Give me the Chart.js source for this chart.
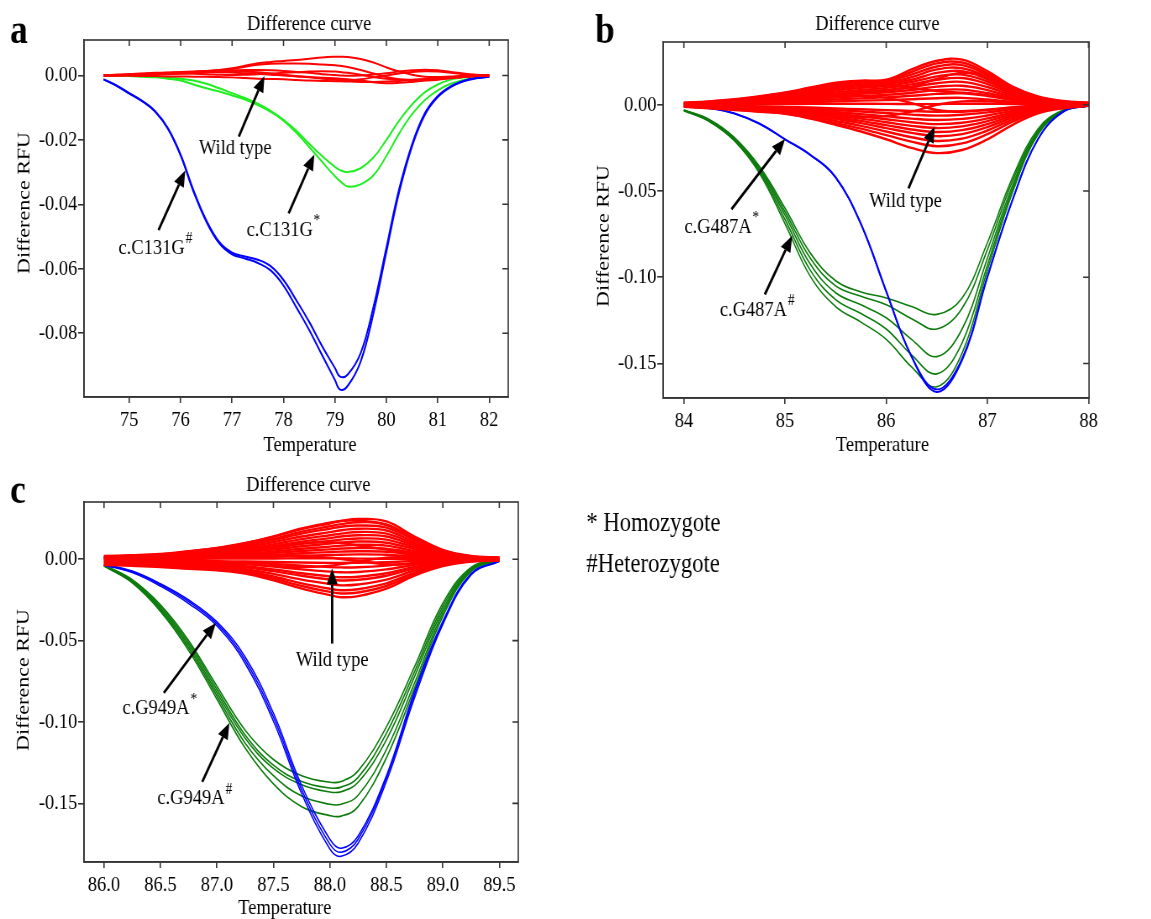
<!DOCTYPE html>
<html>
<head>
<meta charset="utf-8">
<title>Difference curves</title>
<script src="https://cdn.jsdelivr.net/npm/chart.js@4.4.1/dist/chart.umd.min.js"></script>
<style>
  body { margin: 0; background: #fff; }
  #wrap { position: relative; width: 1151px; height: 919px; overflow: hidden; }
  /* the figure is set in slightly condensed type: squeeze each panel horizontally */
  #wrap canvas { position: absolute; transform: scaleX(0.84); transform-origin: 0 0; }
</style>
</head>
<body>
<div id="wrap">
  <canvas id="chart-a" width="679" height="460" style="left:0;top:0"></canvas>
  <canvas id="chart-b" width="680" height="460" style="left:580px;top:0"></canvas>
  <canvas id="chart-c" width="952" height="459" style="left:0;top:460px"></canvas>
</div>
<script>
// ---- panel a : c.C131G ----
const tempA = [74.5, 74.75, 75, 75.25, 75.5, 75.75, 76, 76.25, 76.5, 76.75, 77, 77.25, 77.5, 77.75, 78, 78.25,
               78.5, 78.75, 79, 79.1, 79.25, 79.5, 79.75, 80, 80.25, 80.5, 80.75, 81, 81.25, 81.5, 81.75, 82];
const xTicksA = [75, 76, 77, 78, 79, 80, 81, 82];
const yTicksA = [0, -0.02, -0.04, -0.06, -0.08];

const hetA1 = [-0.0012, -0.0031, -0.0055, -0.0079, -0.0110, -0.0163, -0.0246, -0.0357, -0.0450, -0.0517, -0.0550, -0.0562, -0.0572, -0.0592, -0.0635, -0.0698,
               -0.0765, -0.0840, -0.0908, -0.0935, -0.0928, -0.0862, -0.0718, -0.0535, -0.0352, -0.0214, -0.0117, -0.0064, -0.0034, -0.0017, -0.0008, -0.0004];
const hetA2 = [-0.0012, -0.0032, -0.0056, -0.0080, -0.0112, -0.0165, -0.0249, -0.0361, -0.0454, -0.0521, -0.0555, -0.0568, -0.0582, -0.0605, -0.0652, -0.0720,
               -0.0790, -0.0868, -0.0945, -0.0975, -0.0963, -0.0888, -0.0738, -0.0548, -0.0362, -0.0220, -0.0122, -0.0067, -0.0036, -0.0018, -0.0009, -0.0004];
const homA1 = [0, -0.0001, -0.0001, -0.0002, -0.0004, -0.0006, -0.0010, -0.0016, -0.0026, -0.0040, -0.0055, -0.0070, -0.0088, -0.0110, -0.0138, -0.0172,
               -0.0212, -0.0250, -0.0284, -0.0294, -0.0300, -0.0288, -0.0255, -0.0200, -0.0140, -0.0090, -0.0052, -0.0028, -0.0013, -0.0006, -0.0002, -0.0001];
const homA2 = [0, -0.0001, -0.0002, -0.0004, -0.0006, -0.0010, -0.0016, -0.0028, -0.0040, -0.0050, -0.0062, -0.0075, -0.0092, -0.0113, -0.0140, -0.0178,
               -0.0222, -0.0268, -0.0313, -0.0328, -0.0345, -0.0338, -0.0310, -0.0250, -0.0180, -0.0120, -0.0076, -0.0046, -0.0026, -0.0014, -0.0006, -0.0002];
const wildA = [
  [0, 0.0002, 0.0004, 0.0006, 0.0008, 0.0009, 0.0011, 0.0012, 0.0014, 0.0017, 0.0022, 0.0030, 0.0038, 0.0042, 0.0045, 0.0048,
   0.0052, 0.0056, 0.0058, 0.0058, 0.0057, 0.0051, 0.0040, 0.0025, 0.0012, 0.0002, -0.0004, -0.0005, -0.0003, -0.0001, 0, 0],
  [0, 0.0002, 0.0003, 0.0005, 0.0007, 0.0008, 0.0010, 0.0011, 0.0013, 0.0016, 0.0020, 0.0027, 0.0033, 0.0036, 0.0037, 0.0037,
   0.0036, 0.0034, 0.0032, 0.0030, 0.0026, 0.0017, 0.0006, -0.0005, -0.0012, -0.0015, -0.0015, -0.0013, -0.0009, -0.0005, -0.0002, 0],
  [0, 0.0001, 0.0002, 0.0004, 0.0005, 0.0007, 0.0009, 0.0011, 0.0013, 0.0015, 0.0016, 0.0017, 0.0017, 0.0016, 0.0014, 0.0011,
   0.0008, 0.0004, 0.0001, 0.0000, -0.0001, 0.0000, 0.0003, 0.0007, 0.0012, 0.0016, 0.0018, 0.0016, 0.0011, 0.0006, 0.0002, 0],
  [0, 0.0001, 0.0002, 0.0003, 0.0004, 0.0006, 0.0008, 0.0009, 0.0010, 0.0010, 0.0009, 0.0007, 0.0005, 0.0002, 0.0000, -0.0003,
   -0.0006, -0.0010, -0.0013, -0.0014, -0.0015, -0.0012, -0.0006, 0.0000, 0.0006, 0.0011, 0.0013, 0.0012, 0.0008, 0.0004, 0.0001, 0],
  [0, 0.0000, 0.0001, 0.0002, 0.0003, 0.0004, 0.0005, 0.0005, 0.0004, 0.0002, 0.0001, 0.0002, 0.0004, 0.0006, 0.0008, 0.0010,
   0.0012, 0.0013, 0.0012, 0.0011, 0.0008, 0.0002, -0.0005, -0.0010, -0.0013, -0.0013, -0.0012, -0.0010, -0.0007, -0.0004, -0.0002, 0],
  [0, -0.0001, -0.0001, -0.0002, -0.0002, -0.0003, -0.0003, -0.0004, -0.0004, -0.0005, -0.0006, -0.0008, -0.0010, -0.0011, -0.0012, -0.0014,
   -0.0016, -0.0017, -0.0018, -0.0018, -0.0019, -0.0020, -0.0020, -0.0019, -0.0017, -0.0014, -0.0011, -0.0008, -0.0005, -0.0003, -0.0001, 0],
  [0, 0.0001, 0.0002, 0.0003, 0.0004, 0.0005, 0.0006, 0.0008, 0.0010, 0.0012, 0.0013, 0.0012, 0.0010, 0.0006, 0.0002, -0.0002,
   -0.0005, -0.0007, -0.0009, -0.0010, -0.0012, -0.0016, -0.0021, -0.0024, -0.0023, -0.0020, -0.0016, -0.0012, -0.0008, -0.0005, -0.0002, 0]
];

// ---- panel b : c.G487A ----
const tempB = [84, 84.25, 84.5, 84.75, 85, 85.25, 85.5, 85.75, 86, 86.25, 86.5, 86.75, 87, 87.25, 87.5, 87.75, 88];
const xTicksB = [84, 85, 86, 87, 88];
const yTicksB = [0, -0.05, -0.10, -0.15];

const homB1 = [-0.0010, -0.0020, -0.0050, -0.0110, -0.0200, -0.0290, -0.0420, -0.0690, -0.1080, -0.1460, -0.1665, -0.1480, -0.1000, -0.0550, -0.0200, -0.0040, -0.0005];
const homB2 = [-0.0010, -0.0020, -0.0050, -0.0111, -0.0201, -0.0292, -0.0423, -0.0694, -0.1085, -0.1458, -0.1650, -0.1470, -0.0995, -0.0548, -0.0199, -0.0040, -0.0005];
const hetB = [
  [-0.0030, -0.0085, -0.0190, -0.0360, -0.0600, -0.0860, -0.1020, -0.1085, -0.1120, -0.1170, -0.1215, -0.1120, -0.0800, -0.0420, -0.0140, -0.0030, -0.0005],
  [-0.0031, -0.0088, -0.0195, -0.0370, -0.0620, -0.0890, -0.1050, -0.1110, -0.1160, -0.1240, -0.1300, -0.1180, -0.0840, -0.0440, -0.0150, -0.0032, -0.0005],
  [-0.0032, -0.0091, -0.0200, -0.0380, -0.0640, -0.0925, -0.1090, -0.1160, -0.1235, -0.1360, -0.1460, -0.1300, -0.0890, -0.0465, -0.0158, -0.0034, -0.0006],
  [-0.0033, -0.0094, -0.0205, -0.0390, -0.0665, -0.0960, -0.1130, -0.1210, -0.1300, -0.1450, -0.1560, -0.1380, -0.0930, -0.0485, -0.0165, -0.0036, -0.0006],
  [-0.0034, -0.0097, -0.0210, -0.0400, -0.0690, -0.0995, -0.1170, -0.1260, -0.1360, -0.1520, -0.1635, -0.1440, -0.0960, -0.0505, -0.0172, -0.0038, -0.0007]
];
const wildB = [
  [0.0012, 0.0020, 0.0032, 0.0050, 0.0072, 0.0100, 0.0128, 0.0140, 0.0145, 0.0205, 0.0255, 0.0262, 0.0195, 0.0105, 0.0048, 0.0022, 0.0012],
  [0.0010, 0.0018, 0.0030, 0.0047, 0.0068, 0.0094, 0.0120, 0.0135, 0.0140, 0.0190, 0.0240, 0.0245, 0.0182, 0.0098, 0.0044, 0.0020, 0.0011],
  [0.0010, 0.0017, 0.0028, 0.0044, 0.0063, 0.0087, 0.0110, 0.0128, 0.0138, 0.0175, 0.0222, 0.0230, 0.0172, 0.0092, 0.0041, 0.0018, 0.0010],
  [0.0009, 0.0015, 0.0026, 0.0040, 0.0058, 0.0080, 0.0102, 0.0118, 0.0128, 0.0160, 0.0205, 0.0212, 0.0160, 0.0086, 0.0038, 0.0017, 0.0009],
  [0.0008, 0.0014, 0.0024, 0.0037, 0.0053, 0.0072, 0.0092, 0.0108, 0.0120, 0.0145, 0.0185, 0.0195, 0.0148, 0.0080, 0.0035, 0.0016, 0.0008],
  [0.0008, 0.0013, 0.0022, 0.0033, 0.0047, 0.0064, 0.0082, 0.0098, 0.0110, 0.0132, 0.0165, 0.0175, 0.0135, 0.0072, 0.0032, 0.0014, 0.0008],
  [0.0007, 0.0012, 0.0019, 0.0029, 0.0041, 0.0056, 0.0072, 0.0086, 0.0098, 0.0118, 0.0145, 0.0155, 0.0120, 0.0064, 0.0028, 0.0012, 0.0007],
  [0.0006, 0.0010, 0.0016, 0.0025, 0.0035, 0.0048, 0.0062, 0.0075, 0.0086, 0.0102, 0.0125, 0.0133, 0.0103, 0.0055, 0.0024, 0.0011, 0.0006],
  [0.0005, 0.0008, 0.0013, 0.0020, 0.0029, 0.0040, 0.0052, 0.0063, 0.0072, 0.0086, 0.0105, 0.0110, 0.0085, 0.0046, 0.0020, 0.0009, 0.0005],
  [0.0004, 0.0007, 0.0011, 0.0016, 0.0023, 0.0032, 0.0042, 0.0050, 0.0058, 0.0070, 0.0085, 0.0088, 0.0068, 0.0037, 0.0016, 0.0007, 0.0004],
  [0.0003, 0.0005, 0.0008, 0.0012, 0.0017, 0.0024, 0.0031, 0.0037, 0.0043, 0.0052, 0.0063, 0.0066, 0.0051, 0.0028, 0.0012, 0.0005, 0.0003],
  [0.0002, 0.0003, 0.0005, 0.0008, 0.0011, 0.0015, 0.0020, 0.0024, 0.0027, 0.0032, 0.0038, 0.0040, 0.0031, 0.0017, 0.0008, 0.0003, 0.0002],
  [0.0000, 0.0001, 0.0002, 0.0003, 0.0004, 0.0005, 0.0006, 0.0006, 0.0005, 0.0004, 0.0004, 0.0006, 0.0006, 0.0004, 0.0002, 0.0001, 0.0000],
  [0.0008, 0.0014, 0.0024, 0.0038, 0.0055, 0.0075, 0.0095, 0.0110, 0.0112, 0.0098, 0.0080, 0.0070, 0.0055, 0.0032, 0.0015, 0.0007, 0.0004],
  [0.0004, 0.0008, 0.0013, 0.0020, 0.0028, 0.0038, 0.0046, 0.0050, 0.0040, 0.0010, -0.0030, -0.0040, -0.0030, -0.0015, -0.0006, -0.0002, 0.0000],
  [-0.0006, -0.0010, -0.0016, -0.0024, -0.0034, -0.0047, -0.0060, -0.0070, -0.0065, -0.0040, 0.0000, 0.0020, 0.0020, 0.0010, 0.0004, 0.0001, 0.0000],
  [0.0006, 0.0010, 0.0017, 0.0026, 0.0037, 0.0050, 0.0062, 0.0072, 0.0080, 0.0105, 0.0150, 0.0185, 0.0160, 0.0090, 0.0038, 0.0016, 0.0008],
  [-0.0002, -0.0004, -0.0006, -0.0009, -0.0012, -0.0016, -0.0021, -0.0026, -0.0031, -0.0036, -0.0040, -0.0037, -0.0028, -0.0016, -0.0007, -0.0003, -0.0001],
  [-0.0003, -0.0005, -0.0008, -0.0012, -0.0017, -0.0023, -0.0031, -0.0039, -0.0048, -0.0057, -0.0063, -0.0058, -0.0044, -0.0025, -0.0011, -0.0004, -0.0002],
  [-0.0004, -0.0007, -0.0011, -0.0016, -0.0022, -0.0031, -0.0042, -0.0054, -0.0067, -0.0080, -0.0088, -0.0082, -0.0062, -0.0035, -0.0016, -0.0006, -0.0002],
  [-0.0005, -0.0008, -0.0013, -0.0019, -0.0027, -0.0038, -0.0052, -0.0067, -0.0084, -0.0101, -0.0112, -0.0104, -0.0079, -0.0045, -0.0020, -0.0008, -0.0003],
  [-0.0006, -0.0010, -0.0016, -0.0023, -0.0032, -0.0045, -0.0062, -0.0080, -0.0101, -0.0122, -0.0135, -0.0125, -0.0095, -0.0055, -0.0024, -0.0010, -0.0003],
  [-0.0007, -0.0012, -0.0019, -0.0027, -0.0037, -0.0052, -0.0072, -0.0093, -0.0118, -0.0143, -0.0158, -0.0147, -0.0112, -0.0064, -0.0028, -0.0011, -0.0004],
  [-0.0008, -0.0013, -0.0021, -0.0031, -0.0042, -0.0060, -0.0082, -0.0106, -0.0135, -0.0163, -0.0182, -0.0170, -0.0129, -0.0074, -0.0032, -0.0013, -0.0004],
  [-0.0009, -0.0015, -0.0024, -0.0035, -0.0047, -0.0068, -0.0094, -0.0122, -0.0155, -0.0188, -0.0210, -0.0196, -0.0149, -0.0086, -0.0037, -0.0015, -0.0005],
  [-0.0010, -0.0017, -0.0027, -0.0039, -0.0053, -0.0077, -0.0106, -0.0138, -0.0176, -0.0214, -0.0240, -0.0224, -0.0170, -0.0098, -0.0042, -0.0017, -0.0005],
  [-0.0012, -0.0020, -0.0030, -0.0040, -0.0050, -0.0080, -0.0116, -0.0155, -0.0200, -0.0250, -0.0280, -0.0262, -0.0200, -0.0116, -0.0050, -0.0020, -0.0006]
];

// ---- panel c : c.G949A ----
const tempC = [86, 86.25, 86.5, 86.75, 87, 87.25, 87.5, 87.75, 88, 88.1, 88.25, 88.5, 88.75, 89, 89.25, 89.5];
const xTicksC = [86, 86.5, 87, 87.5, 88, 88.5, 89, 89.5];
const yTicksC = [0, -0.05, -0.10, -0.15];

const homC = [
  [-0.0030, -0.0072, -0.0150, -0.0250, -0.0385, -0.0600, -0.0945, -0.1390, -0.1720, -0.1775, -0.1700, -0.1330, -0.0810, -0.0380, -0.0088, -0.0011],
  [-0.0033, -0.0077, -0.0157, -0.0260, -0.0397, -0.0620, -0.0970, -0.1415, -0.1750, -0.1800, -0.1720, -0.1345, -0.0830, -0.0390, -0.0092, -0.0012],
  [-0.0036, -0.0082, -0.0165, -0.0272, -0.0410, -0.0640, -0.0995, -0.1440, -0.1780, -0.1825, -0.1745, -0.1365, -0.0850, -0.0400, -0.0096, -0.0013]
];
const hetC = [
  [-0.0035, -0.0125, -0.0280, -0.0500, -0.0780, -0.1050, -0.1230, -0.1330, -0.1370, -0.1365, -0.1300, -0.1030, -0.0660, -0.0270, -0.0050, -0.0006],
  [-0.0036, -0.0130, -0.0290, -0.0515, -0.0800, -0.1080, -0.1265, -0.1365, -0.1405, -0.1400, -0.1340, -0.1070, -0.0690, -0.0290, -0.0056, -0.0007],
  [-0.0038, -0.0135, -0.0300, -0.0530, -0.0820, -0.1100, -0.1285, -0.1385, -0.1430, -0.1428, -0.1370, -0.1110, -0.0720, -0.0310, -0.0062, -0.0008],
  [-0.0040, -0.0140, -0.0310, -0.0545, -0.0840, -0.1130, -0.1330, -0.1455, -0.1505, -0.1505, -0.1450, -0.1170, -0.0760, -0.0330, -0.0068, -0.0009],
  [-0.0042, -0.0145, -0.0320, -0.0560, -0.0860, -0.1160, -0.1380, -0.1520, -0.1575, -0.1578, -0.1520, -0.1220, -0.0790, -0.0350, -0.0074, -0.0010]
];
const wildC = [
  [0.0020, 0.0025, 0.0033, 0.0050, 0.0070, 0.0100, 0.0138, 0.0185, 0.0220, 0.0235, 0.0248, 0.0233, 0.0140, 0.0058, 0.0020, 0.0010],
  [0.0018, 0.0022, 0.0030, 0.0048, 0.0068, 0.0098, 0.0140, 0.0190, 0.0225, 0.0236, 0.0238, 0.0210, 0.0125, 0.0052, 0.0018, 0.0009],
  [0.0016, 0.0020, 0.0028, 0.0044, 0.0062, 0.0090, 0.0125, 0.0170, 0.0203, 0.0216, 0.0228, 0.0215, 0.0130, 0.0053, 0.0018, 0.0009],
  [0.0015, 0.0019, 0.0026, 0.0040, 0.0058, 0.0085, 0.0118, 0.0158, 0.0188, 0.0200, 0.0208, 0.0195, 0.0118, 0.0048, 0.0017, 0.0008],
  [0.0013, 0.0017, 0.0024, 0.0037, 0.0053, 0.0076, 0.0105, 0.0140, 0.0167, 0.0178, 0.0188, 0.0177, 0.0106, 0.0044, 0.0015, 0.0008],
  [0.0012, 0.0015, 0.0021, 0.0033, 0.0046, 0.0066, 0.0092, 0.0124, 0.0148, 0.0158, 0.0168, 0.0158, 0.0095, 0.0039, 0.0014, 0.0007],
  [0.0011, 0.0014, 0.0019, 0.0029, 0.0041, 0.0058, 0.0080, 0.0108, 0.0130, 0.0140, 0.0148, 0.0140, 0.0084, 0.0035, 0.0012, 0.0006],
  [0.0010, 0.0012, 0.0016, 0.0025, 0.0035, 0.0050, 0.0070, 0.0095, 0.0113, 0.0121, 0.0128, 0.0121, 0.0073, 0.0030, 0.0010, 0.0005],
  [0.0008, 0.0010, 0.0014, 0.0021, 0.0030, 0.0043, 0.0060, 0.0080, 0.0096, 0.0103, 0.0109, 0.0102, 0.0062, 0.0025, 0.0009, 0.0004],
  [0.0007, 0.0008, 0.0011, 0.0017, 0.0024, 0.0035, 0.0048, 0.0065, 0.0078, 0.0084, 0.0089, 0.0084, 0.0050, 0.0021, 0.0007, 0.0004],
  [0.0005, 0.0006, 0.0009, 0.0013, 0.0019, 0.0027, 0.0038, 0.0051, 0.0061, 0.0066, 0.0069, 0.0065, 0.0039, 0.0016, 0.0006, 0.0003],
  [0.0004, 0.0005, 0.0006, 0.0010, 0.0014, 0.0020, 0.0027, 0.0037, 0.0044, 0.0047, 0.0049, 0.0046, 0.0028, 0.0012, 0.0004, 0.0002],
  [0.0002, 0.0003, 0.0004, 0.0006, 0.0008, 0.0012, 0.0016, 0.0022, 0.0026, 0.0028, 0.0030, 0.0028, 0.0017, 0.0007, 0.0002, 0.0001],
  [0.0000, 0.0000, 0.0002, 0.0003, 0.0004, 0.0004, 0.0005, 0.0006, 0.0006, 0.0005, 0.0004, 0.0003, 0.0002, 0.0001, 0.0000, 0.0000],
  [0.0010, 0.0012, 0.0016, 0.0024, 0.0034, 0.0050, 0.0072, 0.0098, 0.0105, 0.0100, 0.0085, 0.0060, 0.0030, 0.0010, 0.0003, 0.0001],
  [-0.0010, -0.0012, -0.0015, -0.0020, -0.0025, -0.0030, -0.0040, -0.0048, -0.0040, -0.0030, -0.0015, 0.0010, 0.0015, 0.0008, 0.0002, 0.0000],
  [0.0005, 0.0006, 0.0008, 0.0011, 0.0015, 0.0020, 0.0025, 0.0022, 0.0010, 0.0002, -0.0010, -0.0030, -0.0030, -0.0015, -0.0005, -0.0002],
  [-0.0005, -0.0006, -0.0008, -0.0010, -0.0012, -0.0014, -0.0017, -0.0020, -0.0022, -0.0022, -0.0021, -0.0018, -0.0010, -0.0004, -0.0002, -0.0001],
  [-0.0008, -0.0009, -0.0010, -0.0013, -0.0015, -0.0019, -0.0028, -0.0039, -0.0048, -0.0050, -0.0049, -0.0039, -0.0022, -0.0009, -0.0003, -0.0002],
  [-0.0012, -0.0014, -0.0016, -0.0020, -0.0023, -0.0030, -0.0045, -0.0062, -0.0076, -0.0080, -0.0078, -0.0062, -0.0034, -0.0014, -0.0005, -0.0002],
  [-0.0017, -0.0019, -0.0022, -0.0028, -0.0032, -0.0042, -0.0062, -0.0086, -0.0105, -0.0110, -0.0107, -0.0086, -0.0047, -0.0020, -0.0007, -0.0003],
  [-0.0020, -0.0022, -0.0026, -0.0033, -0.0038, -0.0049, -0.0073, -0.0101, -0.0124, -0.0130, -0.0126, -0.0101, -0.0056, -0.0023, -0.0008, -0.0004],
  [-0.0024, -0.0027, -0.0032, -0.0040, -0.0046, -0.0061, -0.0090, -0.0125, -0.0152, -0.0160, -0.0155, -0.0125, -0.0069, -0.0029, -0.0010, -0.0005],
  [-0.0029, -0.0032, -0.0038, -0.0048, -0.0055, -0.0072, -0.0106, -0.0148, -0.0181, -0.0190, -0.0184, -0.0148, -0.0082, -0.0034, -0.0011, -0.0006],
  [-0.0032, -0.0036, -0.0042, -0.0053, -0.0061, -0.0080, -0.0118, -0.0164, -0.0200, -0.0210, -0.0204, -0.0164, -0.0090, -0.0038, -0.0013, -0.0006],
  [-0.0035, -0.0040, -0.0047, -0.0058, -0.0068, -0.0088, -0.0130, -0.0180, -0.0220, -0.0233, -0.0226, -0.0180, -0.0100, -0.0042, -0.0014, -0.0007]
];

// ---- styling ----
const SERIF = "'Liberation Serif', 'Times New Roman', serif";
const RED = '#ff0000', BLUE = '#0000ff', LIME = '#1fee1f', GREEN = '#0b7b0b', AXIS = '#333';
const FS = 22;          // tick / label size
Chart.defaults.font.family = SERIF;
Chart.defaults.color = '#000';

function curve(xs, ys, color, width, order) {
  return {
    data: xs.map((x, i) => ({ x: x, y: ys[i] })),
    borderColor: color, borderWidth: width, order: order,
    pointRadius: 0, fill: false, tension: 0.4
  };
}

// box round the plot with inward ticks on top and right
const framePlugin = {
  id: 'frame',
  afterDatasetsDraw(chart) {
    const { ctx, chartArea: a, scales: { x, y } } = chart;
    ctx.save();
    ctx.strokeStyle = AXIS;
    ctx.lineWidth = 1.6;
    ctx.strokeRect(a.left, a.top, a.right - a.left, a.bottom - a.top);
    ctx.beginPath();
    x.ticks.forEach(t => {
      const px = x.getPixelForValue(t.value);
      ctx.moveTo(px, a.top); ctx.lineTo(px, a.top + 6);
    });
    y.ticks.forEach(t => {
      const py = y.getPixelForValue(t.value);
      ctx.moveTo(a.right, py); ctx.lineTo(a.right - 7, py);
    });
    ctx.stroke();
    ctx.restore();
  }
};

function drawLabel(ctx, text, sup, cx, cy) {
  const supSize = 16;
  ctx.font = FS + 'px ' + SERIF;
  const w = ctx.measureText(text).width;
  let sw = 0;
  if (sup) { ctx.font = supSize + 'px ' + SERIF; sw = ctx.measureText(sup).width; }
  const x0 = cx - (w + sw) / 2;
  ctx.textAlign = 'left';
  ctx.textBaseline = 'middle';
  ctx.font = FS + 'px ' + SERIF;
  ctx.fillText(text, x0, cy);
  if (sup) {
    ctx.font = supSize + 'px ' + SERIF;
    ctx.fillText(sup, x0 + w + 1, cy - 9);
  }
}

function drawArrow(ctx, x0, y0, x1, y1) {
  const ang = Math.atan2(y1 - y0, x1 - x0);
  const head = 16, half = 6.5;
  const bx = x1 - head * Math.cos(ang), by = y1 - head * Math.sin(ang);
  ctx.lineWidth = 2.8;
  ctx.beginPath(); ctx.moveTo(x0, y0); ctx.lineTo(bx, by); ctx.stroke();
  ctx.beginPath();
  ctx.moveTo(x1, y1);
  ctx.lineTo(bx + half * Math.sin(ang), by - half * Math.cos(ang));
  ctx.lineTo(bx - half * Math.sin(ang), by + half * Math.cos(ang));
  ctx.closePath(); ctx.fill();
}

// panel texts (canvas px) and arrow callouts (data units)
const notesPlugin = {
  id: 'notes',
  afterDraw(chart, args, opts) {
    const { ctx, scales: { x, y } } = chart;
    ctx.save();
    ctx.fillStyle = '#000';
    ctx.strokeStyle = '#000';
    (opts.arrows || []).forEach(a => {
      drawArrow(ctx, x.getPixelForValue(a.from[0]), y.getPixelForValue(a.from[1]),
                x.getPixelForValue(a.to[0]), y.getPixelForValue(a.to[1]));
      drawLabel(ctx, a.label, a.sup, x.getPixelForValue(a.at[0]), y.getPixelForValue(a.at[1]));
    });
    (opts.texts || []).forEach(t => {
      ctx.save();
      ctx.font = (t.bold ? 'bold ' : '') + (t.size || FS) + 'px ' + SERIF;
      ctx.textAlign = t.align || 'center';
      ctx.textBaseline = t.base || 'middle';
      ctx.translate(t.x, t.y);
      if (t.rot) ctx.rotate(t.rot);
      ctx.fillText(t.text, 0, 0);
      ctx.restore();
    });
    ctx.restore();
  }
};

function panel(id, p) {
  return new Chart(document.getElementById(id), {
    type: 'line',
    data: { datasets: p.datasets },
    options: {
      responsive: false,
      animation: false,
      events: [],
      layout: { padding: p.pad },
      plugins: { legend: { display: false }, tooltip: { enabled: false }, notes: p.notes },
      scales: {
        x: {
          type: 'linear', min: p.xRange[0], max: p.xRange[1],
          afterBuildTicks: s => { s.ticks = p.xTicks.map(v => ({ value: v })); },
          afterFit: s => { s.height = p.xAxisH; },
          grid: { drawOnChartArea: false, tickLength: 6, color: AXIS, lineWidth: 1.6 },
          border: { color: AXIS, width: 1.6 },
          ticks: { padding: 4, maxRotation: 0, autoSkip: false, font: { size: FS }, color: '#000',
                   callback: v => v.toFixed(p.xDec) }
        },
        y: {
          type: 'linear', min: p.yRange[0], max: p.yRange[1],
          afterBuildTicks: s => { s.ticks = p.yTicks.map(v => ({ value: v })); },
          afterFit: s => { s.width = p.yAxisW; },
          grid: { drawOnChartArea: false, tickLength: 7, color: AXIS, lineWidth: 1.6 },
          border: { color: AXIS, width: 1.6 },
          ticks: { padding: 1, autoSkip: false, font: { size: FS }, color: '#000',
                   callback: v => v.toFixed(2) }
        }
      }
    },
    plugins: [framePlugin, notesPlugin]
  });
}

// ---- a ----
panel('chart-a', {
  datasets: [
    ...wildA.map(ys => curve(tempA, ys, RED, 2, 0)),
    curve(tempA, hetA1, BLUE, 2, 1), curve(tempA, hetA2, BLUE, 2, 1),
    curve(tempA, homA1, LIME, 2, 2), curve(tempA, homA2, LIME, 2, 2)
  ],
  xRange: [74.12, 82.37], yRange: [-0.0998, 0.011],
  xTicks: xTicksA, yTicks: yTicksA, xDec: 0,
  pad: { left: 0, top: 40, right: 74, bottom: 0 }, yAxisW: 100, xAxisH: 63,
  notes: {
    arrows: [
      { label: 'Wild type', at: [77.06, -0.0225], from: [77.13, -0.019], to: [77.63, -0.0002] },
      { label: 'c.C131G', sup: '#', at: [75.5, -0.0535], from: [75.57, -0.048], to: [76.09, -0.0295] },
      { label: 'c.C131G', sup: '*', at: [77.99, -0.048], from: [78.1, -0.0428], to: [78.6, -0.0245] }
    ],
    texts: [
      { text: 'a', x: 12, y: 43, size: 42, bold: true, align: 'left', base: 'alphabetic' },
      { text: 'Difference curve', x: 368, y: 24 },
      { text: 'Temperature', x: 369, y: 445 },
      { text: 'Difference RFU', x: 29, y: 203, rot: -Math.PI / 2 }
    ]
  }
});

// ---- b ----
panel('chart-b', {
  datasets: [
    ...wildB.map(ys => curve(tempB, ys, RED, 2.4, 0)),
    curve(tempB, homB1, BLUE, 2, 1), curve(tempB, homB2, BLUE, 1.6, 1),
    ...hetB.map(ys => curve(tempB, ys, GREEN, 1.6, 2))
  ],
  xRange: [83.795, 88.005], yRange: [-0.170, 0.0364],
  xTicks: xTicksB, yTicks: yTicksB, xDec: 0,
  pad: { left: 0, top: 42, right: 74, bottom: 0 }, yAxisW: 99, xAxisH: 62,
  notes: {
    arrows: [
      { label: 'Wild type', at: [86.19, -0.0561], from: [86.22, -0.0484], to: [86.48, -0.0126] },
      { label: 'c.G487A', sup: '*', at: [84.37, -0.0707], from: [84.47, -0.0606], to: [85.0, -0.0199] },
      { label: 'c.G487A', sup: '#', at: [84.72, -0.119], from: [84.80, -0.110], to: [85.07, -0.076] }
    ],
    texts: [
      { text: 'b', x: 18, y: 43, size: 42, bold: true, align: 'left', base: 'alphabetic' },
      { text: 'Difference curve', x: 354, y: 24 },
      { text: 'Temperature', x: 360, y: 445 },
      { text: 'Difference RFU', x: 28, y: 236, rot: -Math.PI / 2 }
    ]
  }
});

// ---- c ----
panel('chart-c', {
  datasets: [
    ...wildC.map(ys => curve(tempC, ys, RED, 2.4, 0)),
    ...homC.map(ys => curve(tempC, ys, BLUE, 1.5, 1)),
    ...hetC.map(ys => curve(tempC, ys, GREEN, 1.6, 2))
  ],
  xRange: [85.823, 89.668], yRange: [-0.186, 0.0352],
  xTicks: xTicksC, yTicks: yTicksC, xDec: 1,
  pad: { left: 0, top: 42, right: 335, bottom: 0 }, yAxisW: 100, xAxisH: 57,
  notes: {
    arrows: [
      { label: 'Wild type', at: [88.02, -0.062], from: [88.02, -0.0518], to: [88.02, -0.0057] },
      { label: 'c.G949A', sup: '*', at: [86.49, -0.0917], from: [86.53, -0.0821], to: [86.99, -0.0391] },
      { label: 'c.G949A', sup: '#', at: [86.80, -0.147], from: [86.87, -0.1368], to: [87.11, -0.1006] }
    ],
    texts: [
      { text: 'c', x: 12, y: 43, size: 42, bold: true, align: 'left', base: 'alphabetic' },
      { text: 'Difference curve', x: 367, y: 25 },
      { text: 'Temperature', x: 339, y: 448 },
      { text: 'Difference RFU', x: 28, y: 220, rot: -Math.PI / 2 },
      { text: '* Homozygote', x: 698, y: 64, size: 27, align: 'left' },
      { text: '#Heterozygote', x: 698, y: 105, size: 27, align: 'left' }
    ]
  }
});
</script>
</body>
</html>
